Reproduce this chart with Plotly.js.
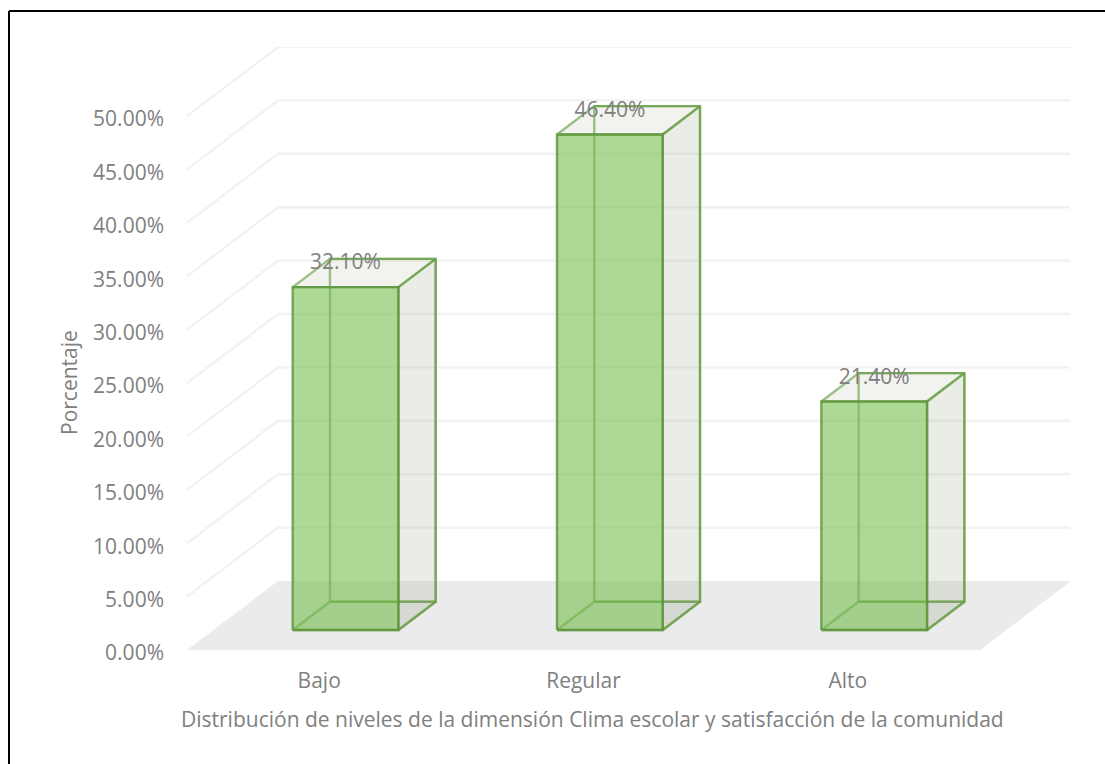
<!DOCTYPE html>
<html>
<head>
<meta charset="utf-8">
<script src="https://cdn.plot.ly/plotly-3.0.1.min.js"></script>
<style>html,body{margin:0;padding:0;background:#fff}</style>
</head>
<body>
<div id="chart" style="width:1105px;height:764px"></div>
<script>
// Chart values
const categories = ["Bajo", "Regular", "Alto"];
const values = [0.321, 0.464, 0.214];
const valueLabels = ["32.10%", "46.40%", "21.40%"];
const gridTicks = [0.05, 0.10, 0.15, 0.20, 0.25, 0.30, 0.35, 0.40, 0.45, 0.50];
const axisTicks = [0, 0.05, 0.10, 0.15, 0.20, 0.25, 0.30, 0.35, 0.40, 0.45, 0.50];

// Oblique projection: depth 0 is the front of the floor, depth 1 the back wall
const SHIFT_X = 0.344;     // horizontal run of the depth axis, in category units
const SHIFT_Y = 0.0646;    // vertical run of the depth axis, in value units
const FRONT = 0.29, BACK = 0.70, HALF_WIDTH = 0.2;
const LABEL_DROP = 0.005;  // value labels hang just under the rear top edge
const project = (cat, val, depth) => [cat + depth * SHIFT_X, val + depth * SHIFT_Y];

const FLOOR_END = categories.length;

function polygon(points, fill, line, width) {
  const p = points.concat([points[0]]);
  return {
    type: "scatter", mode: "lines", fill: "toself", fillcolor: fill,
    x: p.map(q => project(q[0], q[1], q[2])[0]),
    y: p.map(q => project(q[0], q[1], q[2])[1]),
    line: {color: line, width: width === undefined ? 2.4 : width},
    hoverinfo: "skip", showlegend: false
  };
}

const traces = [];

// Floor
traces.push(polygon(
  [[0, 0, 0], [FLOOR_END, 0, 0], [FLOOR_END, 0, 1], [0, 0, 1]],
  "#ebebeb", "rgba(0,0,0,0)", 0));

// Gridlines run up the depth axis, then along the back wall
gridTicks.forEach(t => {
  const pts = [[0, t, 0], [0, t, 1], [FLOOR_END, t, 1]].map(q => project(q[0], q[1], q[2]));
  traces.push({
    type: "scatter", mode: "lines",
    x: pts.map(q => q[0]), y: pts.map(q => q[1]),
    line: {color: "#f2f2f2", width: 2.4},
    hoverinfo: "skip", showlegend: false
  });
});

// Translucent boxes, back faces first
const EDGE = "rgba(95,155,60,0.62)";
values.forEach((v, i) => {
  const c = i + 0.5, a = c - HALF_WIDTH, b = c + HALF_WIDTH;
  traces.push(polygon([[a, 0, BACK], [b, 0, BACK], [b, v, BACK], [a, v, BACK]],
    "rgba(112,173,71,0.0)", EDGE));
  traces.push(polygon([[a, 0, FRONT], [b, 0, FRONT], [b, 0, BACK], [a, 0, BACK]],
    "rgba(150,165,130,0.06)", EDGE));
  traces.push(polygon([[b, 0, FRONT], [b, v, FRONT], [b, v, BACK], [b, 0, BACK]],
    "rgba(160,170,140,0.22)", EDGE));
  traces.push(polygon([[a, v, FRONT], [b, v, FRONT], [b, v, BACK], [a, v, BACK]],
    "rgba(160,170,140,0.14)", EDGE));
  traces.push(polygon([[a, 0, FRONT], [b, 0, FRONT], [b, v, FRONT], [a, v, FRONT]],
    "rgba(120,190,80,0.60)", "rgba(88,145,55,0.78)"));
});

const FONT = {family: "Open Sans, sans-serif", size: 21, color: "#808080"};

// Value labels sit level with the rear top edge
traces.push({
  type: "scatter", mode: "text",
  x: values.map((v, i) => project(i + 0.5, v, FRONT)[0]),
  y: values.map(v => project(0, v, BACK)[1] - LABEL_DROP),
  text: valueLabels,
  textposition: "middle center",
  textfont: FONT,
  hoverinfo: "skip", showlegend: false
});

const PLOT_L = 187, PLOT_R = 1070, PLOT_T = 47, PLOT_B = 650;
const pxX = px => (px - PLOT_L) / (PLOT_R - PLOT_L);
const pxY = px => (PLOT_B - px) / (PLOT_B - PLOT_T);

const layout = {
  width: 1105, height: 764,
  margin: {l: PLOT_L, r: 1105 - PLOT_R, t: PLOT_T, b: 764 - PLOT_B, pad: 0},
  paper_bgcolor: "#fff", plot_bgcolor: "rgba(0,0,0,0)",
  showlegend: false,
  xaxis: {
    range: [0, (PLOT_R - PLOT_L) / (793 / 3)],
    tickmode: "array",
    tickvals: categories.map((c, i) => i + 0.5),
    ticktext: categories,
    tickfont: FONT, ticks: "", ticklabelstandoff: 16,
    showgrid: false, zeroline: false, showline: false
  },
  yaxis: {
    range: [0, (PLOT_B - PLOT_T) / 1068],
    tickmode: "array",
    tickvals: axisTicks,
    tickformat: ".2%",
    tickfont: FONT, ticks: "", ticklabelstandoff: 22, ticklabelshift: 3,
    showgrid: false, zeroline: false, showline: false
  },
  annotations: [
    {text: "Distribución de niveles de la dimensión Clima escolar y satisfacción de la comunidad",
     xref: "paper", yref: "paper", x: pxX(592), y: pxY(719), showarrow: false,
     xanchor: "center", yanchor: "middle", font: FONT},
    {text: "Porcentaje",
     xref: "paper", yref: "paper", x: pxX(69), y: pxY(383), showarrow: false, textangle: -90,
     xanchor: "center", yanchor: "middle", font: FONT}
  ],
  shapes: [
    {type: "line", xref: "paper", yref: "paper", x0: pxX(9), x1: pxX(9), y0: pxY(764), y1: pxY(11),
     line: {color: "#000", width: 2}},
    {type: "line", xref: "paper", yref: "paper", x0: pxX(9), x1: pxX(1105), y0: pxY(11), y1: pxY(11),
     line: {color: "#000", width: 2}}
  ]
};

Plotly.newPlot("chart", traces, layout, {displayModeBar: false, staticPlot: true});
</script>
</body>
</html>
